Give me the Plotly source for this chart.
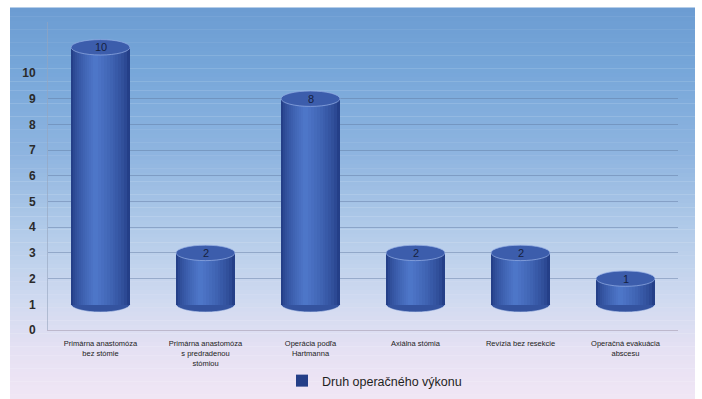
import plotly.graph_objects as go

# Surgical procedure types and number of patients
CATEGORIES = [
    "Primárna anastomóza<br>bez stómie",
    "Primárna anastomóza<br>s predradenou<br>stómiou",
    "Operácia podľa<br>Hartmanna",
    "Axiálna stómia",
    "Revízia bez resekcie",
    "Operačná evakuácia<br>abscesu",
]
VALUES = [10, 2, 8, 2, 2, 1]
SERIES_NAME = "Druh operačného výkonu"
Y_TICKS = list(range(0, 11))

# pseudo-3D styling
DEPTH = 1.0          # floor offset of the cylinders (perspective depth)
BAR_W = 0.56         # cylinder width in category units
CAP_H = 0.3          # half height of the elliptic caps in value units
N_LAYERS = 12        # layers used for the horizontal shading of the cylinders


def hex_to_rgb(h):
    h = h.lstrip("#")
    return tuple(int(h[i:i + 2], 16) for i in (0, 2, 4))


def mix(c1, c2, t):
    a, b = hex_to_rgb(c1), hex_to_rgb(c2)
    return "rgb(%d,%d,%d)" % tuple(round(a[i] + (b[i] - a[i]) * t) for i in range(3))


def gradient(stops, t):
    for (p0, c0), (p1, c1) in zip(stops, stops[1:]):
        if p0 <= t <= p1:
            return mix(c0, c1, (t - p0) / (p1 - p0) if p1 > p0 else 0)
    return mix(stops[-1][1], stops[-1][1], 0)


W, H = 702, 399
fig = go.Figure()

# cylinder bodies: stacked bars of decreasing width give a rounded shading
EDGE, CENTER = "#243f88", "#5079cc"
for k in range(N_LAYERS):
    t = k / N_LAYERS
    w = BAR_W * (1 - t)
    shift = -0.05 * t
    fig.add_trace(go.Bar(
        x=CATEGORIES, y=VALUES, base=[DEPTH] * len(VALUES),
        width=[w] * len(VALUES), offset=[-w / 2 + shift] * len(VALUES),
        marker=dict(color=mix(EDGE, CENTER, (t ** 0.7)), line=dict(width=0)),
        name=SERIES_NAME, showlegend=(k == 0), hoverinfo="skip",
    ))

# helper trace for the back-wall grid axis
fig.add_trace(go.Scatter(x=[CATEGORIES[0]], y=[0], yaxis="y2", mode="markers",
                         marker=dict(opacity=0), showlegend=False, hoverinfo="skip"))

shapes = []
# background gradient of the chart area
bg_stops = [(0.0, "#6c9cd2"), (0.15, "#76a6d9"), (0.38, "#8fb5e0"),
            (0.57, "#b2cbe9"), (0.75, "#d0daf0"), (0.88, "#e6e1f3"), (1.0, "#f1e6f5")]
x_left, x_right, y_top = 10 / W, 695 / W, (H - 8) / H
N_STRIPS = 90
for s in range(N_STRIPS):
    y1 = y_top * (1 - s / N_STRIPS)
    y0 = y_top * (1 - (s + 1) / N_STRIPS)
    shapes.append(dict(type="rect", xref="paper", yref="paper", layer="below",
                       x0=x_left, x1=x_right, y0=y0, y1=y1 + 0.001,
                       fillcolor=gradient(bg_stops, (s + 0.5) / N_STRIPS),
                       line=dict(width=0)))

# elliptic caps of the cylinders
for i, v in enumerate(VALUES):
    shapes.append(dict(type="circle", xref="x", yref="y", layer="between",
                       x0=i - BAR_W / 2, x1=i + BAR_W / 2,
                       y0=DEPTH - CAP_H, y1=DEPTH + CAP_H,
                       fillcolor="#34539f", line=dict(color="rgba(200,215,245,0.6)", width=1)))
    top = v + DEPTH
    shapes.append(dict(type="circle", xref="x", yref="y", layer="above",
                       x0=i - BAR_W / 2, x1=i + BAR_W / 2,
                       y0=top - CAP_H, y1=top + CAP_H,
                       fillcolor="#3c5dac", line=dict(color="rgba(150,175,230,0.7)", width=1)))

annotations = [
    dict(x=i, y=v + DEPTH, xref="x", yref="y", text=str(v), showarrow=False,
         font=dict(family="Liberation Sans", size=11, color="#16213f"))
    for i, v in enumerate(VALUES)
]

fig.update_layout(
    width=W, height=H,
    margin=dict(l=0, r=0, t=0, b=0, autoexpand=False),
    paper_bgcolor="white", plot_bgcolor="rgba(0,0,0,0)",
    barmode="overlay", bargap=0,
    shapes=shapes, annotations=annotations,
    xaxis=dict(domain=[48 / W, 678 / W], showgrid=False, zeroline=False,
               showline=True, linecolor="rgba(185,180,200,0.9)", linewidth=1,
               ticks="", ticklabelstandoff=6,
               tickfont=dict(family="Liberation Sans", size=7.5, color="#222222"),
               range=[-0.5, len(CATEGORIES) - 0.5], fixedrange=True),
    yaxis=dict(domain=[(H - 330) / H, (H - 21.6) / H], range=[0, 12],
               tickvals=Y_TICKS, showgrid=False, zeroline=False,
               showline=True, linecolor="rgba(150,165,190,0.6)", linewidth=1,
               ticks="", ticklabelstandoff=9,
               tickfont=dict(family="Liberation Sans", size=12, color="#2b2b2b", weight="bold")),
    yaxis2=dict(overlaying="y", range=[0, 12], tickvals=[2, 3, 4, 5, 6, 7, 8, 9, 12],
                showticklabels=False, showgrid=True, gridcolor="rgba(95,120,160,0.45)",
                gridwidth=1, zeroline=False, showline=False, side="left"),
    legend=dict(orientation="h", x=282 / W, xanchor="left", y=(H - 381) / H, yanchor="middle",
                bgcolor="rgba(0,0,0,0)",
                font=dict(family="Liberation Sans", size=12.5, color="#1f1f1f")),
    showlegend=True,
)

fig.write_html("out.html")
